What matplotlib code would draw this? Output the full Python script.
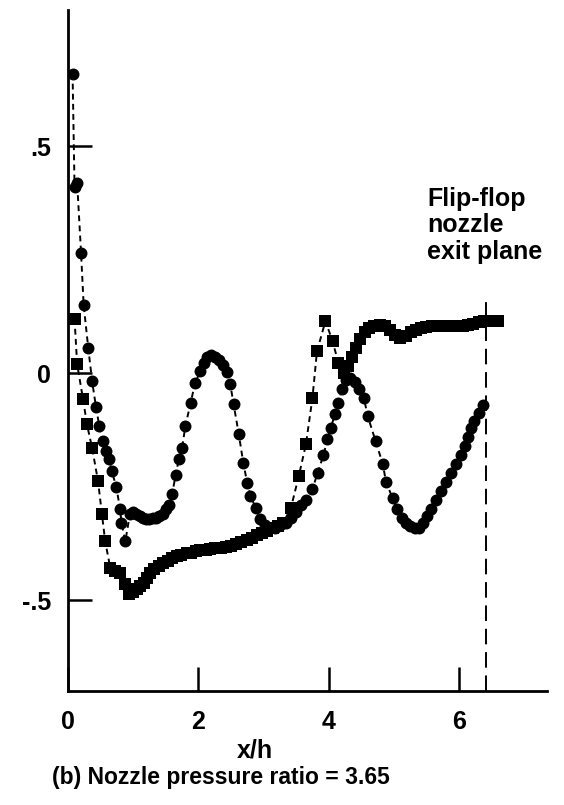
import matplotlib
matplotlib.use("Agg")
import matplotlib.pyplot as plt

plt.rcParams['font.family'] = ['Liberation Sans', 'DejaVu Sans']

# wall pressure, first trace (circles)
circ_x = [0.07, 0.10, 0.14, 0.20, 0.24, 0.31, 0.37, 0.43, 0.48, 0.53, 0.58, 0.63,
          0.67, 0.74, 0.80, 0.82, 0.88, 0.95, 1.00, 1.05, 1.10, 1.15, 1.20, 1.25,
          1.30, 1.35, 1.40, 1.45, 1.50, 1.55, 1.60, 1.65, 1.70, 1.75, 1.80, 1.88,
          1.95, 2.03, 2.08, 2.14, 2.20, 2.26, 2.32, 2.38, 2.44, 2.49, 2.54, 2.62,
          2.69, 2.75, 2.80, 2.88, 2.95, 3.02, 3.10, 3.18, 3.26, 3.34, 3.42, 3.50,
          3.58, 3.65, 3.75, 3.83, 3.92, 3.98, 4.03, 4.10, 4.15, 4.20, 4.26, 4.32,
          4.40, 4.47, 4.54, 4.60, 4.72, 4.83, 4.88, 4.98, 5.05, 5.12, 5.18, 5.25,
          5.32, 5.38, 5.45, 5.51, 5.57, 5.64, 5.72, 5.80, 5.88, 5.95, 6.03, 6.09,
          6.14, 6.19, 6.23, 6.30, 6.37]
circ_y = [0.66, 0.41, 0.42, 0.265, 0.15, 0.056, -0.018, -0.075, -0.117, -0.15, -0.172, -0.19,
          -0.215, -0.25, -0.30, -0.33, -0.37, -0.31, -0.305, -0.31, -0.315, -0.32, -0.322, -0.322,
          -0.32, -0.318, -0.315, -0.31, -0.30, -0.29, -0.265, -0.225, -0.19, -0.165, -0.117, -0.066,
          -0.022, 0.005, 0.022, 0.035, 0.040, 0.036, 0.028, 0.018, 0.003, -0.024, -0.068, -0.134,
          -0.198, -0.242, -0.27, -0.297, -0.322, -0.335, -0.34, -0.34, -0.335, -0.33, -0.318, -0.305,
          -0.29, -0.28, -0.255, -0.22, -0.18, -0.146, -0.12, -0.09, -0.066, -0.035, -0.015, -0.01,
          -0.02, -0.035, -0.055, -0.095, -0.15, -0.20, -0.24, -0.275, -0.30, -0.318, -0.33, -0.337,
          -0.34, -0.34, -0.33, -0.315, -0.30, -0.28, -0.26, -0.24, -0.22, -0.20, -0.18, -0.16,
          -0.14, -0.12, -0.105, -0.088, -0.07]

# wall pressure, second trace (squares)
sq_x = [0.10, 0.14, 0.23, 0.29, 0.37, 0.46, 0.52, 0.57, 0.65, 0.72, 0.80, 0.88,
        0.93, 1.00, 1.06, 1.11, 1.16, 1.21, 1.26, 1.32, 1.39, 1.46, 1.53, 1.60,
        1.67, 1.74, 1.82, 1.89, 1.96, 2.03, 2.11, 2.18, 2.26, 2.34, 2.42, 2.50,
        2.58, 2.66, 2.74, 2.82, 2.90, 2.98, 3.06, 3.14, 3.22, 3.30, 3.42, 3.54,
        3.65, 3.75, 3.82, 3.95, 4.06, 4.15, 4.24, 4.30, 4.36, 4.42, 4.48, 4.55,
        4.62, 4.70, 4.78, 4.86, 4.94, 5.02, 5.10, 5.18, 5.26, 5.34, 5.42, 5.50,
        5.58, 5.66, 5.74, 5.82, 5.90, 5.98, 6.06, 6.14, 6.22, 6.30, 6.38, 6.46,
        6.54, 6.60]
sq_y = [0.12, 0.02, -0.057, -0.112, -0.165, -0.237, -0.31, -0.37, -0.43, -0.435, -0.44, -0.465,
        -0.487, -0.482, -0.475, -0.468, -0.462, -0.45, -0.44, -0.432, -0.425, -0.418, -0.413, -0.407,
        -0.402, -0.400, -0.397, -0.395, -0.392, -0.390, -0.389, -0.388, -0.386, -0.385, -0.382, -0.38,
        -0.377, -0.372, -0.367, -0.362, -0.357, -0.352, -0.347, -0.342, -0.337, -0.33, -0.297, -0.227,
        -0.157, -0.055, 0.048, 0.115, 0.07, 0.022, 0.000, 0.015, 0.035, 0.055, 0.075, 0.09,
        0.10, 0.105, 0.106, 0.103, 0.095, 0.085, 0.078, 0.083, 0.09, 0.096, 0.1, 0.102,
        0.103, 0.103, 0.103, 0.103, 0.104, 0.104, 0.105, 0.106, 0.108, 0.112, 0.114, 0.115,
        0.116, 0.116]

exit_plane = 6.42
x_ticks = [0, 2, 4, 6]
x_ticklabels = ['0', '2', '4', '6']
y_ticks = [-0.5, 0, 0.5]
y_ticklabels = ['-.5', '0', '.5']

fig = plt.figure(figsize=(5.64, 8.05), dpi=100)
ax = fig.add_axes([0.1206, 0.1416, 0.8493, 0.846])

dash = (0, (3, 2.2))
ax.plot(circ_x, circ_y, color='black', lw=1.4, linestyle=dash,
        marker='o', markersize=8.6, markerfacecolor='black', markeredgewidth=0)
ax.plot(sq_x, sq_y, color='black', lw=1.4, linestyle=dash,
        marker='s', markersize=8, markerfacecolor='black', markeredgewidth=0)

# exit plane of the nozzle
ax.plot([exit_plane, exit_plane], [-0.7, 0.17], color='black', lw=1.4,
        linestyle=(0, (8, 4)))

ax.set_xlim(0, 7.35)
ax.set_ylim(-0.7, 0.8)
for s in ['top', 'right']:
    ax.spines[s].set_visible(False)
for s in ['left', 'bottom']:
    ax.spines[s].set_linewidth(2)

ax.set_xticks(x_ticks)
ax.set_xticklabels(x_ticklabels)
ax.set_yticks(y_ticks)
ax.set_yticklabels(y_ticklabels)
ax.tick_params(direction='in', length=17, width=1.8, labelsize=18)
ax.tick_params(axis='x', pad=14)
ax.tick_params(axis='y', pad=12)
for lab in ax.get_xticklabels() + ax.get_yticklabels():
    lab.set_fontweight('bold')

fig.text(255 / 564, 1 - 750 / 805, 'x/h', ha='center', va='center',
         fontsize=18, fontweight='bold')
fig.text(221 / 564, 1 - 777 / 805, '(b) Nozzle pressure ratio = 3.65',
         ha='center', va='center', fontsize=16.5, fontweight='bold')
fig.text(427 / 564, 1 - 187 / 805, 'Flip-flop\nnozzle\nexit plane',
         ha='left', va='top', fontsize=18, fontweight='bold', linespacing=1.12)

fig.savefig('out.png', dpi=100)
